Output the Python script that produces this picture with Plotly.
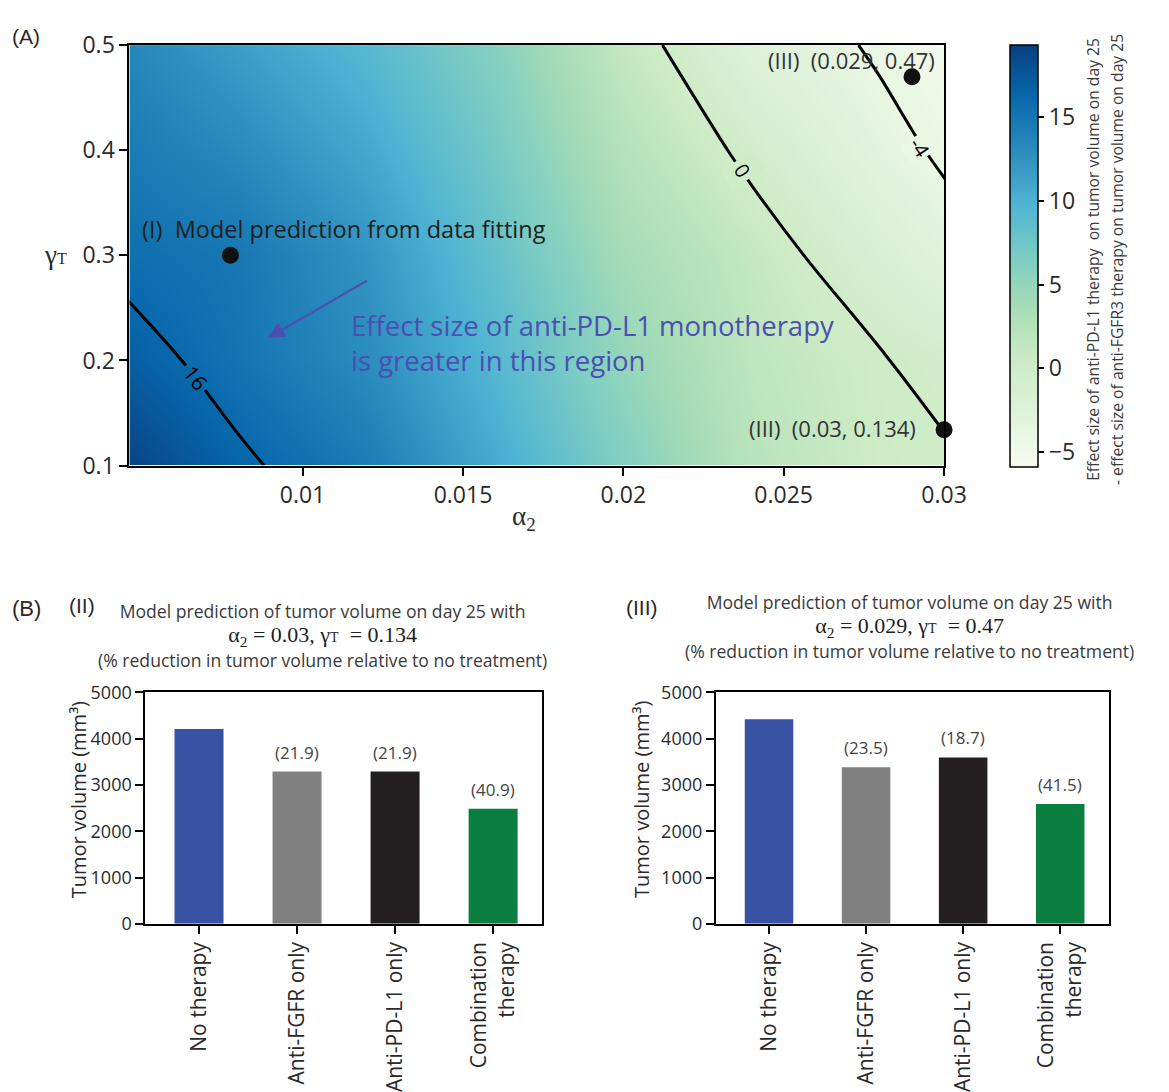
import plotly.graph_objects as go

W, H = 1169, 1092

# ---------------- Panel A: sensitivity map over (alpha2, gamma_T) ----------------
alpha2 = [0.004, 0.008, 0.012, 0.016, 0.020, 0.024, 0.028, 0.032]
gamma_t = [0.1, 0.2, 0.3, 0.4, 0.5]
# effect size (anti-PD-L1) minus effect size (anti-FGFR3) on tumor volume, day 25
effect_diff = [
    [19.3, 16.4, 14.4, 10.5, 6.2, 2.1, 0.25, -0.11],
    [17.2, 15.05, 13.0, 9.3, 4.9, 1.6, 0.15, -1.35],
    [15.6, 14.8, 12.3, 8.2, 3.7, 1.1, -1.6, -4.2],
    [14.7, 13.15, 10.75, 7.05, 2.4, -0.55, -3.3, -5.3],
    [13.8, 11.5, 9.2, 5.9, 1.1, -2.5, -4.3, -6.0],
]
color_min, color_max = -5.9, 19.3
cbar_ticks = [-5, 0, 5, 10, 15]

# contour levels; 16 gets an automatic label, the others a placed one
auto_label_level = 16
manual_levels = [0, -4]
manual_label_text = ["0", "-4"]
manual_label_alpha = [0.02372, 0.02925]
manual_label_gamma = [0.381, 0.403]
manual_label_angle = [57, 57]
manual_label_bg = ["#cfecc8", "#e9f7e3"]
manual_label_pad = [5, 2]

x_ticks = [0.01, 0.015, 0.02, 0.025, 0.03]
x_ticktext = ["0.01", "0.015", "0.02", "0.025", "0.03"]
y_ticks = [0.1, 0.2, 0.3, 0.4, 0.5]
y_ticktext = ["0.1", "0.2", "0.3", "0.4", "0.5"]

point_alpha = [0.00775, 0.029, 0.03]
point_gamma = [0.3, 0.47, 0.134]

# ---------------- Panel B: bar charts ----------------
categories = ["No therapy", "Anti-FGFR only", "Anti-PD-L1 only", "Combination<br>therapy"]
volumes_ii = [4210, 3288, 3288, 2488]
reduction_ii = [None, "21.9", "21.9", "40.9"]
volumes_iii = [4420, 3381, 3594, 2586]
reduction_iii = [None, "23.5", "18.7", "41.5"]
bar_colors = ["#3953a4", "#808080", "#231f20", "#0b7f40"]
vol_ticks = [0, 1000, 2000, 3000, 4000, 5000]

SANS = "Open Sans"
SERIF = "Liberation Serif"
TXT = "#2a2a2a"


def px(x):
    return x / W


def py(y):
    return 1 - y / H


fig = go.Figure()

fig.add_trace(go.Heatmap(
    x=alpha2, y=gamma_t, z=effect_diff,
    colorscale="GnBu", zmin=color_min, zmax=color_max, zsmooth="best",
    xaxis="x", yaxis="y", hoverinfo="skip",
    colorbar=dict(
        x=px(1030), xanchor="left", y=py(29), yanchor="top",
        len=(465 - 29) / H, lenmode="fraction",
        thickness=28, thicknessmode="pixels",
        outlinewidth=1.5, outlinecolor="black",
        ticks="outside", ticklen=6, tickwidth=1.5, tickcolor="black",
        tickvals=cbar_ticks, tickfont=dict(family=SANS, size=23, color=TXT),
        xpad=0, ypad=0,
    ),
))


def contour_line(level, labels):
    fig.add_trace(go.Contour(
        x=alpha2, y=gamma_t, z=effect_diff,
        autocontour=False,
        contours=dict(start=level, end=level, size=1, coloring="none",
                      showlabels=labels,
                      labelfont=dict(family=SANS, size=21, color="black")),
        line=dict(color="black", width=3),
        showscale=False, hoverinfo="skip",
        xaxis="x", yaxis="y",
    ))


contour_line(auto_label_level, True)
for lev in manual_levels:
    contour_line(lev, False)

# contour labels sitting in a gap of their line
for txt, a, g, ang, bg, pad in zip(manual_label_text, manual_label_alpha,
                                   manual_label_gamma, manual_label_angle,
                                   manual_label_bg, manual_label_pad):
    fig.add_annotation(
        x=a, y=g, xref="x", yref="y", text=txt, showarrow=False,
        textangle=ang, bgcolor=bg, borderpad=pad,
        font=dict(family=SANS, size=20, color="black"),
    )

fig.add_trace(go.Scatter(
    x=point_alpha, y=point_gamma, mode="markers",
    marker=dict(size=17, color="#111111"),
    cliponaxis=False, hoverinfo="skip", xaxis="x", yaxis="y",
))


def add_bars(vals, reds, xa, ya):
    fig.add_trace(go.Bar(
        x=list(range(len(vals))), y=vals, width=0.5,
        marker=dict(color=bar_colors, line=dict(width=0)),
        xaxis=xa, yaxis=ya, hoverinfo="skip",
    ))
    for i, (v, r) in enumerate(zip(vals, reds)):
        if r is None:
            continue
        fig.add_annotation(
            x=i, y=v, xref=xa, yref=ya, text=f"({r})", showarrow=False,
            yanchor="bottom", yshift=6,
            font=dict(family=SANS, size=17, color="#444444"),
        )


add_bars(volumes_ii, reduction_ii, "x2", "y2")
add_bars(volumes_iii, reduction_iii, "x3", "y3")

axis_common = dict(
    showline=True, linewidth=2, linecolor="black", mirror=True,
    showgrid=False, zeroline=False, ticks="outside", ticklen=8,
    tickwidth=2, tickcolor="black",
)

bar_x = dict(axis_common, range=[-0.55, 3.5], tickvals=[0, 1, 2, 3],
             ticktext=categories, tickangle=-90,
             tickfont=dict(family=SANS, size=21, color=TXT))
bar_y = dict(axis_common, range=[0, 5000], tickvals=vol_ticks,
             tickfont=dict(family=SANS, size=18, color=TXT))
bar_x["linewidth"] = 1.5
bar_y["linewidth"] = 1.5

fig.update_layout(
    width=W, height=H,
    margin=dict(l=0, r=0, t=0, b=0),
    paper_bgcolor="white", plot_bgcolor="white",
    showlegend=False,
    xaxis=dict(axis_common, domain=[px(132), px(963)], range=[0.0046, 0.03],
               tickvals=x_ticks, ticktext=x_ticktext, anchor="y",
               tickfont=dict(family=SANS, size=23, color=TXT)),
    yaxis=dict(axis_common, domain=[py(463), py(29)], range=[0.1, 0.5],
               tickvals=y_ticks, ticktext=y_ticktext, anchor="x",
               tickfont=dict(family=SANS, size=23, color=TXT)),
    xaxis2=dict(bar_x, domain=[px(148), px(553)], anchor="y2"),
    yaxis2=dict(bar_y, domain=[py(936), py(697)], anchor="x2"),
    xaxis3=dict(bar_x, domain=[px(730), px(1131)], anchor="y3"),
    yaxis3=dict(bar_y, domain=[py(936), py(697)], anchor="x3"),
)

# arrow pointing into the high-effect region
fig.add_annotation(
    x=0.00892, y=0.2215, ax=0.01206, ay=0.2768,
    xref="x", yref="y", axref="x", ayref="y",
    text="", showarrow=True, arrowhead=2, arrowsize=1.5,
    arrowwidth=2.2, arrowcolor="#4b50b0",
)


def note(x, y, text, size, color=TXT, family=SANS, xanchor="center",
         angle=0, align="center"):
    fig.add_annotation(
        x=px(x), y=py(y), xref="paper", yref="paper", text=text,
        showarrow=False, xanchor=xanchor, yanchor="middle",
        textangle=angle, align=align,
        font=dict(family=family, size=size, color=color),
    )


def span(text, size, family=None, color=None):
    style = f"font-size:{size}px"
    if family:
        style += f";font-family:{family}"
    if color:
        style += f";fill:{color}"
    return f"<span style='{style}'>{text}</span>"


note(10, 20, "(A)", 21, family="Liberation Sans", xanchor="left")
note(143, 219, "(I)  Model prediction from data fitting", 23.5, color="#1e1e1e",
     xanchor="left")
note(356, 318, "Effect size of anti-PD-L1 monotherapy", 27.5, color="#4b50b0",
     xanchor="left")
note(356, 355, "is greater in this region", 27.5, color="#4b50b0", xanchor="left")
note(956, 44, "(III)  (0.029, 0.47)", 22, color="#333333", xanchor="right")
note(936, 424, "(III)  (0.03, 0.134)", 22, color="#333333", xanchor="right")
note(57, 246, "γ" + span("T", 16), 27, family=SERIF)
note(535, 517, "α<sub>2</sub>", 27, family=SERIF)
note(1127, 250,
     span("Effect size of anti-PD-L1 therapy  on tumor volume on day 25", 15.7)
     + "<br>"
     + span("- effect size of anti-FGFR3 therapy on tumor volume on day 25", 15.7),
     18.5, color="#3a3a3a", angle=-90)

note(10, 610, "(B)", 22, family="Liberation Sans", xanchor="left")
note(68, 607, "(II)", 21, family="Liberation Sans", xanchor="left")
note(637, 609, "(III)", 21, family="Liberation Sans", xanchor="left")


def bar_title(cx, cy, a2, gt):
    mid = ("α<sub>2</sub> = " + a2 + ", γ" + span("T", 14, SERIF)
           + "  = " + gt)
    note(cx, cy,
         span("Model prediction of tumor volume on day 25 with", 17.6, SANS, "#3a3a3a")
         + "<br>" + span(mid, 22, SERIF, "#1e1e1e") + "<br>"
         + span("(% reduction in tumor volume relative to no treatment)", 17.6,
                SANS, "#3a3a3a"),
         18.8)


bar_title(329, 638, "0.03", "0.134")
bar_title(928, 629, "0.029", "0.47")

note(80, 808, "Tumor volume (mm³)", 20, angle=-90)
note(655, 808, "Tumor volume (mm³)", 20, angle=-90)

fig.write_html("out.html")
